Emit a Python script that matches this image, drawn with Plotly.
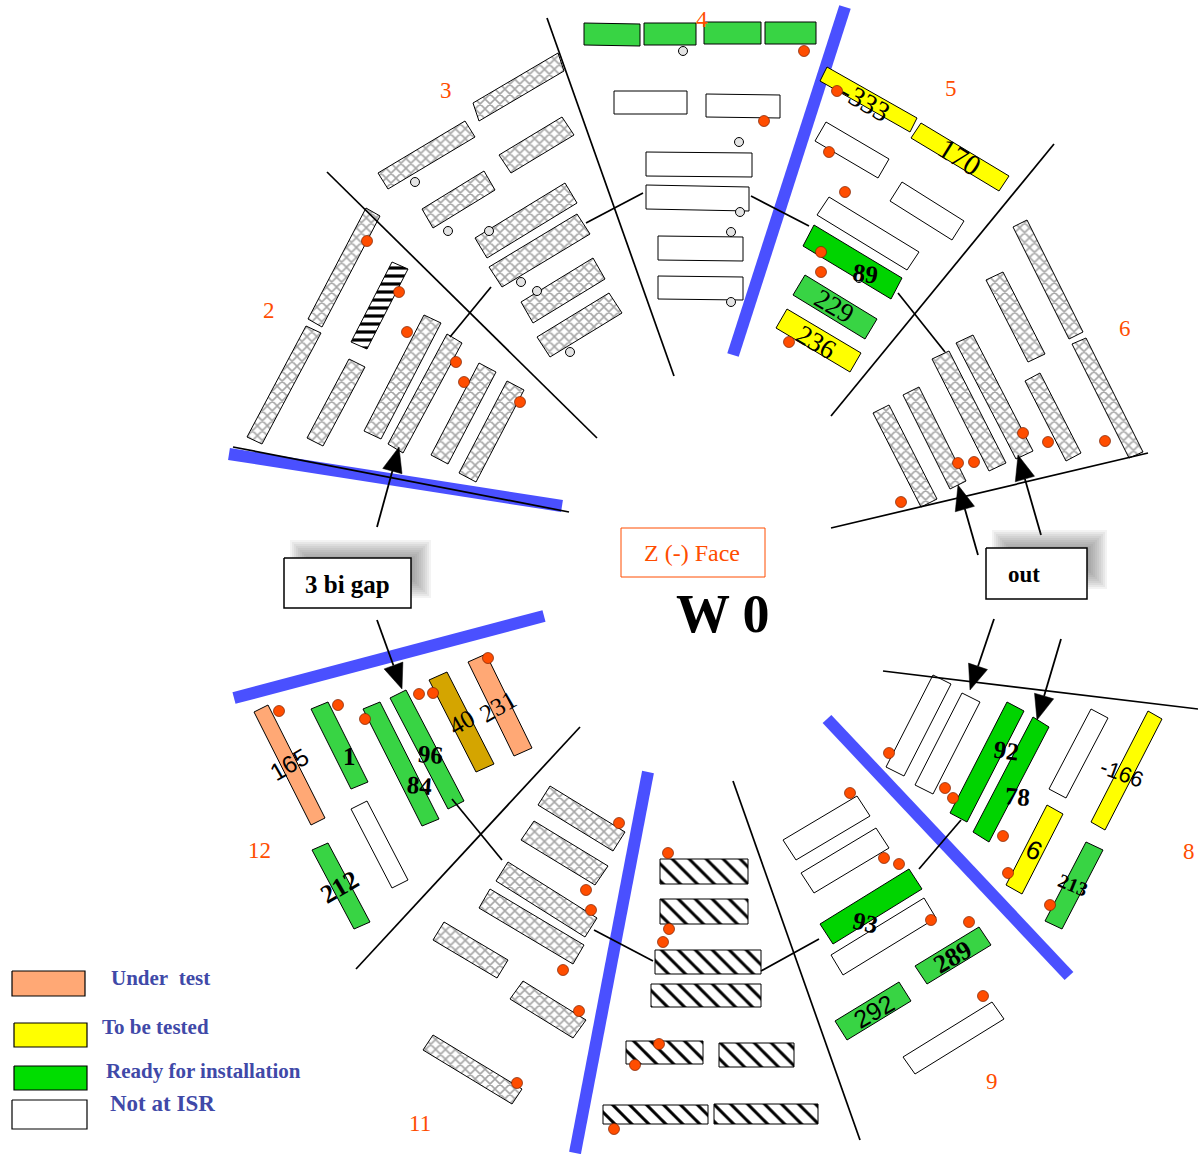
import math
import plotly.graph_objects as go

# Each module: (corner, corner along its length, corner across its width)
sector2_hatched = [
    ((308,319),(366,208),(322,327)), ((247,437),(306,326),(262,444)),
    ((307,438),(349,359),(323,446)), ((364,431),(424,315),(381,439)),
    ((388,444),(447,334),(403,453)), ((431,455),(479,363),(448,464)),
    ((459,473),(507,381),(476,482)),
]
sector2_dense = [((351,342),(392,262),(367,349))]
sector3_hatched = [
    ((473,103),(558,53),(479,121)), ((378,173),(465,121),(388,189)),
    ((499,155),(562,117),(511,173)), ((422,209),(484,171),(433,228)),
    ((475,238),(565,183),(487,258)), ((489,267),(577,214),(502,287)),
    ((521,302),(593,258),(533,323)), ((537,337),(609,293),(550,357)),
]
sector6_hatched = [
    ((873,413),(921,507),(889,405)), ((903,395),(950,489),(919,387)),
    ((932,359),(989,471),(949,351)), ((956,343),(1016,459),(973,335)),
    ((986,280),(1028,362),(1003,272)), ((1025,381),(1066,461),(1040,373)),
    ((1013,227),(1069,339),(1027,220)), ((1072,344),(1129,458),(1086,338)),
]
sector11_hatched = [
    ((550,786),(625,832),(538,805)), ((534,821),(608,866),(521,840)),
    ((508,862),(597,918),(496,881)), ((490,889),(584,945),(479,908)),
    ((444,922),(508,960),(433,940)), ((523,981),(586,1020),(510,999)),
    ((433,1035),(522,1089),(423,1050)),
]
sector10_dark = [
    ((660,859),(748,859),(660,884)), ((660,899),(748,899),(660,924)),
    ((655,950),(761,950),(655,974)), ((651,984),(761,984),(651,1007)),
    ((626,1041),(703,1041),(626,1064)), ((719,1043),(794,1043),(719,1067)),
    ((603,1105),(708,1105),(603,1124)), ((714,1104),(818,1104),(714,1124)),
]
not_at_isr = [
    ((614,91),(687,91),(614,114)), ((706,94),(780,95),(706,117)),
    ((646,152),(752,153),(646,176)), ((646,185),(749,187),(646,209)),
    ((658,236),(743,237),(658,260)), ((658,276),(743,277),(658,299)),
    ((826,122),(889,159),(815,141)), ((902,182),(964,221),(890,201)),
    ((829,197),(919,252),(817,215)),
    ((933,675),(886,767),(951,684)), ((962,693),(915,785),(980,702)),
    ((1091,709),(1049,789),(1108,718)),
    ((857,796),(783,840),(870,816)), ((876,828),(801,873),(889,848)),
    ((924,898),(831,955),(936,918)), ((992,1002),(903,1057),(1004,1019)),
    ((367,801),(408,880),(351,809)),
]
ready_light = [
    ((584,23),(640,24),(584,45)), ((644,23),(696,23),(644,45)),
    ((704,22),(761,22),(704,44)), ((765,22),(816,22),(765,44)),
    ((805,275),(877,319),(793,295)), ((1086,842),(1045,921),(1103,850)),
    ((979,927),(915,966),(991,945)), ((899,982),(835,1021),(911,1001)),
    ((328,702),(368,782),(311,709)), ((380,702),(439,819),(363,709)),
    ((406,690),(464,801),(390,698)), ((328,843),(370,922),(312,850)),
]
ready_bright = [
    ((814,225),(902,278),(803,246)), ((1007,702),(950,813),(1024,711)),
    ((1033,717),(973,832),(1049,727)), ((909,869),(820,924),(922,889)),
]
to_be_tested = [
    ((827,67),(917,118),(820,81)), ((921,123),(1009,176),(911,138)),
    ((787,309),(861,353),(776,328)), ((1148,711),(1091,822),(1162,719)),
    ((1047,805),(1006,885),(1063,814)),
]
under_test = [
    ((268,705),(325,818),(254,712)), ((486,654),(532,748),(468,662)),
]
dark_yellow = [((447,672),(494,764),(429,680))]

blue_bars = [
    ((845,7),(733,355)), ((229,454),(562,506)), ((234,698),(544,616)),
    ((827,719),(1069,976)), ((648,772),(575,1153)),
]
sector_lines = [
    ((547,18),(674,376)), ((327,172),(597,438)), ((1054,144),(831,416)),
    ((233,447),(569,512)), ((831,528),(1148,453)), ((883,671),(1198,709)),
    ((733,781),(860,1140)), ((580,727),(356,969)),
]
connector_lines = [
    ((491,287),(450,337)), ((586,223),(643,193)), ((751,196),(809,226)),
    ((898,293),(945,352)), ((452,799),(502,860)), ((594,930),(653,961)),
    ((761,971),(819,939)), ((919,869),(961,820)),
]
arrows = [
    ((377,527),(399,447)), ((377,620),(402,689)), ((978,555),(958,485)),
    ((1041,535),(1018,455)), ((994,619),(970,690)), ((1061,639),(1037,720)),
]
orange_x = [367,399,407,456,464,520,804,764,837,829,845,821,821,789,958,974,901,1023,1048,1105,
            889,945,953,1003,1008,1050,850,884,899,931,969,983,279,338,365,419,433,488,
            619,586,591,563,579,517,668,669,663,659,635,614]
orange_y = [241,292,332,362,382,402,51,121,91,152,192,252,272,342,463,462,502,433,442,441,
            753,788,798,836,873,905,793,858,864,920,922,996,711,705,719,694,693,658,
            823,890,910,970,1011,1083,853,929,942,1044,1065,1129]
white_x = [683,415,448,489,521,537,570,739,740,731,731,859]
white_y = [51,182,231,231,282,291,352,142,212,232,302,278]

sector_names = ["2","3","4","5","6","8","9","11","12"]
sector_x = [269,446,702,951,1125,1189,992,420,259]
sector_y = [310,90,19,88,328,851,1081,1123,850]

# text, x, y, angle, bold, family, size
module_labels = [
    ("-333",865,101,30,False,"Liberation Serif",28), ("170",960,157,32,False,"Liberation Serif",29),
    ("89",865,273,8,True,"Liberation Serif",25), ("229",834,306,30,False,"Liberation Serif",27),
    ("236",816,342,30,False,"Liberation Serif",27), ("92",1006,750,8,True,"Liberation Serif",25),
    ("78",1017,796,5,True,"Liberation Serif",25), ("-166",1122,773,20,False,"Liberation Sans",22),
    ("6",1034,850,25,False,"Liberation Sans",26), ("213",1073,885,22,True,"Liberation Serif",20),
    ("93",865,922,12,True,"Liberation Serif",25), ("289",952,957,-30,True,"Liberation Serif",26),
    ("292",874,1011,-30,False,"Liberation Sans",25), ("165",289,764,-30,False,"Liberation Sans",24),
    ("1",349,756,0,True,"Liberation Serif",25), ("84",420,785,5,True,"Liberation Serif",25),
    ("96",430,754,5,True,"Liberation Serif",25), ("40",461,722,-30,False,"Liberation Serif",25),
    ("231",498,706,-30,False,"Liberation Serif",25), ("212",339,887,-30,True,"Liberation Serif",26),
]
legend_names = ["Under  test","To be tested","Ready for installation","Not at ISR"]
legend_text_x = [109,100,104,108]
legend_text_y = [978,1027,1071,1103]
legend_sizes = [21,21,21,23]
legend_boxes = [(12,971,85,996),(14,1023,87,1047),(14,1066,87,1090),(12,1100,87,1129)]
legend_colors = ["#ffa875","#ffff00","#00dd00","#ffffff"]
callout_boxes = [(284,558,411,608),(986,548,1087,599)]
callout_text = ["3 bi gap","out"]
callout_text_x = [347,1024]
callout_text_y = [584,574]

ORANGE = "#ff4d00"
fig = go.Figure()


def outline(rects):
    xs, ys = [], []
    for a, b, d in rects:
        c = (b[0] + d[0] - a[0], b[1] + d[1] - a[1])
        xs += [a[0], b[0], c[0], d[0], a[0], None]
        ys += [a[1], b[1], c[1], d[1], a[1], None]
    return xs, ys


def modules(rects, color="#ffffff", pattern=None, lw=1):
    x, y = outline(rects)
    kw = {"fillpattern": pattern} if pattern else {}
    fig.add_trace(go.Scatter(x=x, y=y, mode="lines", fill="toself", fillcolor=color,
                             line=dict(color="#000000", width=lw), hoverinfo="skip", **kw))


def segments(pairs, color, width):
    x, y = [], []
    for p, q in pairs:
        x += [p[0], q[0], None]
        y += [p[1], q[1], None]
    fig.add_trace(go.Scatter(x=x, y=y, mode="lines", line=dict(color=color, width=width), hoverinfo="skip"))


segments(blue_bars, "#4a50ff", 12)
light = dict(shape="x", fgcolor="#a6a6a6", bgcolor="#ffffff", fgopacity=1, fillmode="replace", size=7, solidity=0.4)
for group in (sector2_hatched, sector3_hatched, sector6_hatched, sector11_hatched):
    modules(group, pattern=light)
modules(sector2_dense, pattern=dict(shape="-", fgcolor="#000000", bgcolor="#ffffff", fgopacity=1,
                                    fillmode="replace", size=8, solidity=0.4))
modules(sector10_dark, pattern=dict(shape="\\", fgcolor="#000000", bgcolor="#ffffff", fgopacity=1,
                                    fillmode="replace", size=12, solidity=0.25))
modules(not_at_isr)
modules(ready_light, "#38d444")
modules(ready_bright, "#00d400")
modules(to_be_tested, "#ffff00")
modules(under_test, "#ffa875")
modules(dark_yellow, "#d4a500")
segments(sector_lines, "#000000", 1.7)
segments(connector_lines, "#000000", 1.7)

for start, tip in arrows:
    dx, dy = tip[0] - start[0], tip[1] - start[1]
    n = math.hypot(dx, dy)
    ux, uy = dx / n, dy / n
    bx, by = tip[0] - 25 * ux, tip[1] - 25 * uy
    fig.add_trace(go.Scatter(x=[start[0], bx], y=[start[1], by], mode="lines",
                             line=dict(color="#000000", width=1.8), hoverinfo="skip"))
    fig.add_trace(go.Scatter(x=[tip[0], bx - 10 * uy, bx + 10 * uy, tip[0]],
                             y=[tip[1], by + 10 * ux, by - 10 * ux, tip[1]],
                             mode="lines", fill="toself", fillcolor="#000000",
                             line=dict(color="#000000", width=0.5), hoverinfo="skip"))

for x0, y0, x1, y1 in callout_boxes:
    for grow in range(14, -8, -2):
        fig.add_trace(go.Scatter(x=[x0+20-grow, x1+6+grow, x1+6+grow, x0+20-grow],
                                 y=[y0-4-grow, y0-4-grow, y1-24+grow, y1-24+grow],
                                 mode="lines", fill="toself", fillcolor="rgba(90,90,90,0.075)",
                                 line=dict(width=0), hoverinfo="skip"))
    fig.add_trace(go.Scatter(x=[x0,x1,x1,x0,x0], y=[y0,y0,y1,y1,y0], mode="lines", fill="toself",
                             fillcolor="#ffffff", line=dict(color="#000000", width=1.5), hoverinfo="skip"))

for (x0, y0, x1, y1), col in zip(legend_boxes, legend_colors):
    fig.add_trace(go.Scatter(x=[x0,x1,x1,x0,x0], y=[y0,y0,y1,y1,y0], mode="lines", fill="toself",
                             fillcolor=col, line=dict(color="#000000", width=1.2), hoverinfo="skip"))

fig.add_trace(go.Scatter(x=[621,765,765,621,621], y=[528,528,577,577,528], mode="lines",
                         line=dict(color=ORANGE, width=1), hoverinfo="skip"))

fig.add_trace(go.Scatter(x=white_x, y=white_y, mode="markers", hoverinfo="skip",
                         marker=dict(size=9, color="#e4e4e4", line=dict(color="#000000", width=1))))
fig.add_trace(go.Scatter(x=orange_x, y=orange_y, mode="markers", hoverinfo="skip",
                         marker=dict(size=11, color=ORANGE, line=dict(color="#7a2000", width=0.7))))


def note(text, x, y, size, color="#000000", family="Liberation Serif", angle=0, xanchor="center"):
    fig.add_annotation(x=x, y=y, xref="x", yref="y", text=text, showarrow=False, textangle=angle,
                       xanchor=xanchor, yanchor="middle", font=dict(size=size, color=color, family=family))


for name, x, y in zip(sector_names, sector_x, sector_y):
    note(name, x, y, 23, ORANGE)
for text, x, y, angle, bold, family, size in module_labels:
    note(f"<b>{text}</b>" if bold else text, x, y, size, "#000000", family, angle)
for name, x, y, size in zip(legend_names, legend_text_x, legend_text_y, legend_sizes):
    note(f"<b>{name.replace('  ', '&nbsp; ')}</b>", x, y, size, "#4049a8", xanchor="left")
for name, x, y, size in zip(callout_text, callout_text_x, callout_text_y, [25, 23]):
    note(f"<b>{name}</b>", x, y, size)
note("Z (-) Face", 692, 553, 24, ORANGE)
note("<b>W 0</b>", 723, 614, 54)

fig.update_layout(width=1198, height=1154, margin=dict(l=0, r=0, t=0, b=0), showlegend=False,
                  paper_bgcolor="#ffffff", plot_bgcolor="#ffffff",
                  xaxis=dict(range=[0, 1198], visible=False, fixedrange=True),
                  yaxis=dict(range=[1154, 0], visible=False, fixedrange=True))
fig.write_html("out.html", config={"displayModeBar": False},
               post_script="document.body.style.margin='0';document.body.style.overflow='hidden';")
